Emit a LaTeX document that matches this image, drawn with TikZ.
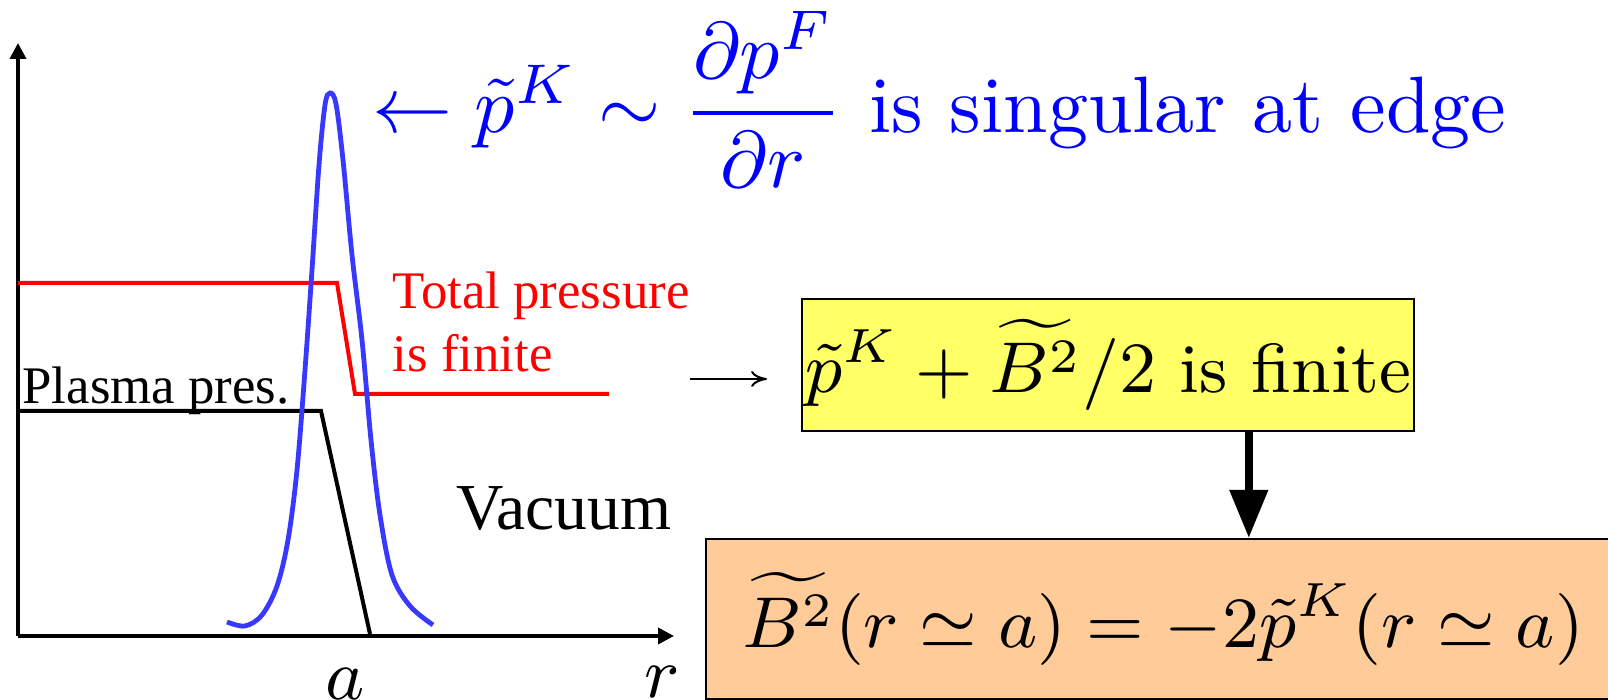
\documentclass[tikz,border=0pt]{standalone}
\usepackage{amsmath}
\usepackage{amssymb}
\usepackage{fontspec}
\usepackage{xcolor}
\usepackage{tikz}
\usetikzlibrary{arrows.meta,positioning,calc}
\newfontfamily\timesfont{Liberation Serif}
\definecolor{EdgeBlue}{HTML}{0000FF}
\definecolor{CurveBlue}{HTML}{3838FF}
\definecolor{TotalRed}{HTML}{FF0000}
\definecolor{BoxYellow}{HTML}{FFFF66}
\definecolor{BoxOrange}{HTML}{FFCC99}
\tikzset{
  axisline/.style={line width=0.45pt,-{Triangle[length=2pt,width=2pt]}},
  totalline/.style={draw=TotalRed,line width=0.5pt},
  plasmaline/.style={draw=black,line width=0.5pt},
  kinkcurve/.style={draw=CurveBlue,line width=0.6pt},
  plainlabel/.style={inner sep=0pt,font=\timesfont\fontsize{6.6}{7.9}\selectfont},
  biglabel/.style={inner sep=0pt,font=\timesfont\fontsize{8.2}{9.8}\selectfont},
  ticklabel/.style={inner sep=0pt,anchor=north,font=\fontsize{9}{11}\selectfont},
  finitebox/.style={draw=black,fill=BoxYellow,line width=0.25pt,inner sep=0pt,
    minimum width=76.6pt,minimum height=16.5pt,font=\fontsize{8.7}{10.5}\selectfont},
  resultbox/.style={draw=black,fill=BoxOrange,line width=0.25pt,inner sep=0pt,
    minimum width=114.25pt,minimum height=20pt,font=\fontsize{9}{11}\selectfont},
  thinarrow/.style={line width=0.25pt,-{To[length=2pt,width=2pt]}},
  bigarrow/.style={line width=1pt,-{Triangle[length=6pt,width=4.6pt]}}
}
\begin{document}
\begin{tikzpicture}[x=0.125pt,y=-0.125pt]
  \useasboundingbox (0,0) rectangle (1608,700);
  % axes
  \coordinate (origin) at (18,636);
  \draw[axisline] (origin) -- (18,43);
  \draw[axisline] (origin) -- (674,636);
  \node[ticklabel] (alabel) at (345,667) {$a$};
  \node[ticklabel] (rlabel) at (662,665) {$r$};
  % profiles
  \draw[totalline] (18,283) -- (337,283) -- (355,394) -- (609,394);
  \draw[plasmaline] (18,411) -- (321,411) -- (370,634);
  \draw[kinkcurve] plot[smooth,tension=0.55] coordinates {(227,622) (245,626) (262,615) (277,586)
    (288,540) (297,470) (305,370) (312,270) (319,165) (325,105) (330,93) (336,104) (343,160)
    (352,255) (362,340) (371,440) (380,515) (392,575) (410,606) (433,625)};
  % labels
  \node[plainlabel,anchor=base west] (plasma) at (21,404) {Plasma pres.};
  \node[plainlabel,anchor=base west,align=left,text=TotalRed] (total) at (391,372) {Total pressure\\is finite};
  \node[biglabel,anchor=base west] (vacuum) at (455,530) {Vacuum};
  \node[inner sep=0pt,anchor=base west,text=EdgeBlue,font=\fontsize{10}{12}\selectfont] (edge) at (371,133)
    {$\leftarrow\tilde{p}^K\sim\dfrac{\partial p^F}{\partial r}$ is singular at edge};
  % boxes
  \node[finitebox] (finite) at (1108,365) {$\tilde{p}^K+\widetilde{B^2}/2$ is finite};
  \node[resultbox] (result) at (1163,619) {$\widetilde{B^2}(r\simeq a)=-2\tilde{p}^K(r\simeq a)$};
  \coordinate (tail) at (690,379);
  \coordinate (head) at (767,379);
  \draw[thinarrow] (tail) -- (head);
  \draw[bigarrow] ([xshift=17.6pt]finite.south) -- ([xshift=17.6pt]finite.south |- result.north);
\end{tikzpicture}
\end{document}
